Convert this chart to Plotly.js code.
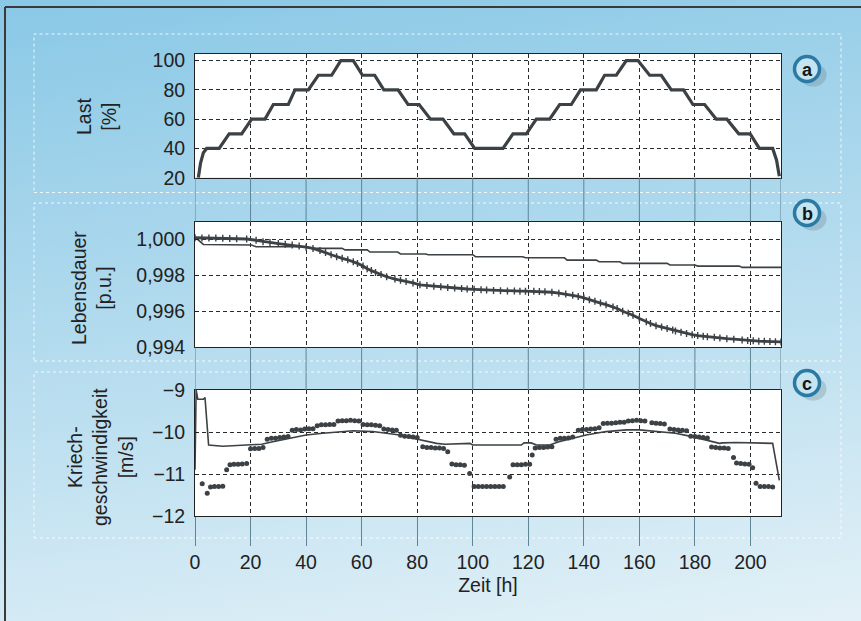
<!DOCTYPE html>
<html>
<head>
<meta charset="utf-8">
<script src="https://cdn.plot.ly/plotly-3.0.1.min.js"></script>
<style>
  html, body { margin: 0; padding: 0; }
  body { width: 861px; height: 621px; overflow: hidden;
    background: linear-gradient(172deg, #89c8e6 0%, #a4d4eb 30%, #c2e2f1 65%, #e3f1f7 100%); }
  #chart { width: 861px; height: 621px; }
</style>
</head>
<body>
<div id="chart"></div>
<script>
// ---------- Data ----------
// Panel a: Last [%]
const loadTime = [1.2, 2.0, 3.0, 4.2, 8.7, 12.3, 16.8, 20.4, 25.2, 28.2, 33.6, 36.0, 40.8, 44.4, 49.2, 52.5, 57.0, 60.3, 64.7, 68.0, 73.1, 76.7, 80.7, 84.8, 89.3, 93.2, 97.1, 100.7, 110.9, 114.5, 119.3, 122.9, 127.7, 131.3, 135.5, 138.8, 144.5, 147.5, 151.7, 155.3, 159.5, 163.7, 167.9, 171.5, 175.9, 179.3, 183.5, 187.7, 191.5, 195.8, 199.9, 203.2, 208.0, 209.4, 210.4];
const loadValue = [20, 30, 37, 40, 40, 50, 50, 60, 60, 70, 70, 80, 80, 90, 90, 100, 100, 90, 90, 80, 80, 70, 70, 60, 60, 50, 50, 40, 40, 50, 50, 60, 60, 70, 70, 80, 80, 90, 90, 100, 100, 90, 90, 80, 80, 70, 70, 60, 60, 50, 50, 40, 40, 32, 21];

// Panel b: Lebensdauer [p.u.] — thin line
const lifeThinTime = [0, 3, 20.4, 22, 40, 42, 53, 54, 62, 63, 73, 74, 83, 84, 100, 101, 118, 119, 133, 134, 144.5, 145.5, 153, 154, 170, 171, 180, 181, 196, 197, 211];
const lifeThinValue = [1.0001, 0.9997, 0.99967, 0.99957, 0.99957, 0.99948, 0.99948, 0.9994, 0.9994, 0.99928, 0.99928, 0.99917, 0.99917, 0.99913, 0.99913, 0.99902, 0.99902, 0.99896, 0.99896, 0.99883, 0.99883, 0.99874, 0.99874, 0.99865, 0.99865, 0.99856, 0.99856, 0.9985, 0.9985, 0.99843, 0.99843];
// Panel b: Lebensdauer — dotted (thick) line
const lifeDotTime = [0, 2.5, 5, 7.5, 10, 12.5, 15, 18.6, 22, 24.5, 27, 30, 32.5, 35, 37.5, 40, 42.5, 45, 47, 49, 51, 53, 55, 57, 58.5, 60.5, 62, 63.5, 65, 67, 69, 72, 74, 76, 78.5, 81, 83.5, 86, 88.5, 91, 93.5, 96, 98, 100.5, 103, 105, 107.5, 110, 112.5, 115, 117, 119, 122, 124, 126, 128.5, 131, 133.5, 136, 138, 140, 142, 144, 146, 148, 150.5, 152, 154, 156, 157.7, 160, 162.5, 164, 166, 168, 170, 172, 173, 175, 177, 179, 181, 183, 184.5, 187, 189, 191.5, 194, 197, 199, 201, 203, 205, 207, 209, 211];
const lifeDotValue = [1.00007, 1.00006, 1.00005, 1.00005, 1.00004, 1.00003, 1.00002, 1.0, 0.99993, 0.99985, 0.99981, 0.99975, 0.99971, 0.99967, 0.99961, 0.99955, 0.99948, 0.99937, 0.99925, 0.99913, 0.99902, 0.99893, 0.99885, 0.99874, 0.99865, 0.9985, 0.99835, 0.99825, 0.99815, 0.99803, 0.99791, 0.99778, 0.99772, 0.99765, 0.99757, 0.99746, 0.99742, 0.99738, 0.99735, 0.99732, 0.99729, 0.99726, 0.99723, 0.99721, 0.99719, 0.99717, 0.99715, 0.99713, 0.99712, 0.99712, 0.99711, 0.99711, 0.9971, 0.99709, 0.99708, 0.99705, 0.997, 0.99695, 0.99689, 0.99682, 0.99674, 0.99663, 0.99655, 0.99645, 0.99636, 0.99624, 0.99615, 0.996, 0.99589, 0.99578, 0.9956, 0.99541, 0.99532, 0.9952, 0.99512, 0.99504, 0.99496, 0.9949, 0.99483, 0.99476, 0.9947, 0.99465, 0.99461, 0.99458, 0.99455, 0.99452, 0.99448, 0.99445, 0.9944, 0.99438, 0.99436, 0.99434, 0.99433, 0.99432, 0.99431, 0.9943];

// Panel c: Kriechgeschwindigkeit [m/s] — thin line
const creepLineTime = [0, 0.4, 1, 3.0, 3.6, 4.9, 10, 14, 20, 24, 28, 34, 40, 46, 52, 57, 64, 69, 73.7, 78.5, 83, 87, 90, 99, 100, 117.5, 118.5, 121, 123, 127.7, 131, 136, 140.8, 148, 155.3, 160, 167, 173, 179, 184, 188.8, 190, 194.8, 208, 210.4];
const creepLineValue = [-10.9, -9.0, -9.22, -9.22, -9.18, -10.31, -10.34, -10.33, -10.31, -10.29, -10.23, -10.15, -10.07, -10.03, -9.99, -9.97, -9.99, -10.03, -10.07, -10.15, -10.21, -10.27, -10.29, -10.27, -10.31, -10.31, -10.26, -10.26, -10.31, -10.31, -10.23, -10.15, -10.07, -9.99, -9.95, -9.95, -9.99, -10.03, -10.11, -10.19, -10.27, -10.26, -10.25, -10.27, -11.15];
// Panel c: dots
const creepDotTime = [2.6, 4.4, 5.6, 7.0, 8.5, 10.0, 11.4, 12.6, 14.0, 15.5, 17.0, 18.6, 20.0, 21.5, 23.0, 24.5, 26.0, 27.5, 29.0, 30.5, 32.0, 33.5, 35.0, 36.5, 38.0, 39.5, 41.0, 42.5, 44.0, 45.5, 47.0, 48.5, 50.0, 51.5, 53.0, 54.5, 56.0, 57.5, 59.0, 60.5, 62.0, 63.5, 65.0, 66.5, 68.0, 69.5, 71.0, 72.5, 74.0, 75.5, 77.0, 78.5, 80.0, 82.0, 83.5, 85.0, 86.5, 88.0, 89.5, 91.0, 92.5, 94.0, 95.5, 97.0, 98.9, 100.5, 102.0, 103.5, 105.0, 106.5, 108.0, 109.5, 111.0, 113.3, 114.5, 116.0, 117.5, 119.0, 120.5, 121.4, 122.5, 124.0, 125.5, 127.0, 128.5, 130.0, 131.5, 133.0, 134.5, 136.0, 138.0, 139.5, 141.0, 142.5, 144.0, 145.5, 147.0, 148.5, 150.0, 151.5, 153.0, 154.5, 156.0, 157.5, 159.0, 160.5, 162.0, 164.5, 166.0, 167.5, 169.0, 171.0, 172.5, 174.0, 175.5, 177.0, 178.5, 180.0, 181.5, 183.0, 184.5, 186.0, 187.5, 189.0, 190.5, 192.0, 193.9, 195.0, 196.5, 198.0, 199.5, 200.8, 202.0, 203.5, 205.0, 206.5, 208.0];
const creepDotValue = [-11.23, -11.46, -11.31, -11.3, -11.3, -11.29, -10.9, -10.78, -10.77, -10.77, -10.76, -10.75, -10.4, -10.39, -10.39, -10.37, -10.17, -10.15, -10.15, -10.13, -10.12, -10.11, -9.96, -9.94, -9.95, -9.93, -9.92, -9.92, -9.85, -9.83, -9.83, -9.82, -9.82, -9.74, -9.73, -9.73, -9.72, -9.73, -9.74, -9.82, -9.83, -9.83, -9.84, -9.85, -9.93, -9.94, -9.95, -9.96, -10.08, -10.1, -10.11, -10.12, -10.13, -10.35, -10.37, -10.37, -10.38, -10.38, -10.39, -10.47, -10.76, -10.78, -10.78, -10.79, -10.99, -11.3, -11.3, -11.3, -11.3, -11.3, -11.3, -11.3, -11.3, -11.07, -10.78, -10.78, -10.78, -10.77, -10.77, -10.55, -10.38, -10.37, -10.37, -10.36, -10.35, -10.17, -10.15, -10.15, -10.14, -10.12, -9.96, -9.94, -9.94, -9.93, -9.92, -9.9, -9.8, -9.79, -9.79, -9.78, -9.77, -9.77, -9.74, -9.73, -9.72, -9.73, -9.74, -9.78, -9.79, -9.8, -9.81, -9.93, -9.94, -9.95, -9.96, -9.97, -10.1, -10.11, -10.12, -10.13, -10.14, -10.36, -10.37, -10.38, -10.38, -10.39, -10.61, -10.74, -10.75, -10.76, -10.77, -10.85, -11.22, -11.3, -11.3, -11.3, -11.31];

const xTicks = [0, 20, 40, 60, 80, 100, 120, 140, 160, 180, 200];

// ---------- Geometry helpers (pixel -> paper) ----------
const ML = 195, MR = 80, MT = 54, MB = 105;
const W = 861, H = 621, PW = W - ML - MR, PH = H - MT - MB;
const px = v => (v - ML) / PW;
const py = v => (H - MB - v) / PH;

const ink = '#3b4145';
const domA = [py(177.7), py(54)];
const domB = [py(347.3), py(221.7)];
const domC = [py(516), py(390)];

const traces = [
  { x: loadTime, y: loadValue, xaxis: 'x', yaxis: 'y', mode: 'lines',
    line: { color: ink, width: 3.2 } },
  { x: lifeThinTime, y: lifeThinValue, xaxis: 'x2', yaxis: 'y2', mode: 'lines',
    line: { color: ink, width: 1.6 } },
  { x: lifeDotTime, y: lifeDotValue, xaxis: 'x2', yaxis: 'y2', mode: 'lines+markers',
    line: { color: ink, width: 2.8 },
    marker: { symbol: 'line-ns-open', size: 5, color: ink, line: { width: 1.4, color: ink } } },
  { x: creepLineTime, y: creepLineValue, xaxis: 'x3', yaxis: 'y3', mode: 'lines',
    line: { color: ink, width: 1.6 } },
  { x: creepDotTime, y: creepDotValue, xaxis: 'x3', yaxis: 'y3', mode: 'markers',
    marker: { symbol: 'circle', size: 5, color: ink } }
];

const tickFont = { family: 'Liberation Sans, Arial, sans-serif', size: 19.5, color: '#222' };
const gridCommon = { showgrid: true, gridcolor: '#2a2a2a', gridwidth: 1, griddash: '4px,3px',
  showline: true, linecolor: '#222', linewidth: 1, mirror: true, zeroline: false };

const xBase = Object.assign({}, gridCommon, { range: [0, 211], tickvals: xTicks, fixedrange: true });

const layout = {
  width: W, height: H,
  margin: { l: ML, r: MR, t: MT, b: MB },
  paper_bgcolor: 'rgba(0,0,0,0)',
  plot_bgcolor: '#ffffff',
  showlegend: false,
  separators: ',.',
  font: tickFont,
  xaxis: Object.assign({}, xBase, { anchor: 'y', showticklabels: false, ticks: '' }),
  xaxis2: Object.assign({}, xBase, { anchor: 'y2', showticklabels: false, ticks: '' }),
  xaxis3: Object.assign({}, xBase, { anchor: 'y3', showticklabels: true, ticks: 'outside',
    ticklen: 29, tickcolor: '#5f8596', tickwidth: 1, tickfont: tickFont,
    title: { text: 'Zeit [h]', font: tickFont, standoff: 5 } }),
  yaxis: Object.assign({}, gridCommon, { domain: domA, range: [20, 104.5], tickvals: [20, 40, 60, 80, 100],
    ticks: 'inside', ticklen: 4, tickcolor: '#222', tickfont: tickFont, ticklabelstandoff: 5 }),
  yaxis2: Object.assign({}, gridCommon, { domain: domB, range: [0.994, 1.00096],
    tickvals: [0.994, 0.996, 0.998, 1.0], tickformat: '.3f',
    ticks: 'inside', ticklen: 4, tickcolor: '#222', tickfont: tickFont, ticklabelstandoff: 5 }),
  yaxis3: Object.assign({}, gridCommon, { domain: domC, range: [-12, -9], tickvals: [-12, -11, -10, -9],
    ticks: 'inside', ticklen: 4, tickcolor: '#222', tickfont: tickFont, ticklabelstandoff: 5 }),
  shapes: [],
  annotations: []
};

// outer frame (left + top dark edge)
layout.shapes.push({ type: 'line', xref: 'paper', yref: 'paper', x0: px(5), x1: px(5), y0: py(7), y1: py(640),
  line: { color: '#3a3a3a', width: 2 } });
layout.shapes.push({ type: 'line', xref: 'paper', yref: 'paper', x0: px(5), x1: px(880), y0: py(7), y1: py(7),
  line: { color: '#3a3a3a', width: 2 } });

// white panel boxes
[[34, 841, 34, 192.5], [34, 841, 203, 361], [34, 841, 372, 538]].forEach(b => {
  layout.shapes.push({ type: 'rect', xref: 'paper', yref: 'paper', layer: 'below',
    x0: px(b[0]), x1: px(b[1]), y0: py(b[3]), y1: py(b[2]),
    line: { color: 'rgba(255,255,255,0.85)', width: 1, dash: 'dot' }, fillcolor: 'rgba(0,0,0,0)' });
});

// vertical lines in the gaps between panels
xTicks.concat([211]).forEach(t => {
  [[domA[0], domB[1]], [domB[0], domC[1]]].forEach(g => {
    layout.shapes.push({ type: 'line', xref: 'x3', yref: 'paper', x0: t, x1: t, y0: g[1], y1: g[0],
      line: { color: '#5f8596', width: 1 } });
  });
});

// badges a, b, c
[['a', 69], ['b', 213], ['c', 383]].forEach(([lab, cy]) => {
  const cx = 807, r = 12.5;
  layout.shapes.push({ type: 'circle', xref: 'paper', yref: 'paper',
    x0: px(cx - r + 5), x1: px(cx + r + 7), y0: py(cy + r + 5), y1: py(cy - r + 7),
    fillcolor: 'rgba(90,110,120,0.25)', line: { width: 0 } });
  layout.shapes.push({ type: 'circle', xref: 'paper', yref: 'paper',
    x0: px(cx - r), x1: px(cx + r), y0: py(cy + r), y1: py(cy - r),
    fillcolor: '#c4e4f2', line: { color: '#2b7aa4', width: 3.5 } });
  layout.annotations.push({ text: '<b>' + lab + '</b>', xref: 'paper', yref: 'paper',
    x: px(cx), y: py(cy + 1), xanchor: 'center', yanchor: 'middle', showarrow: false,
    font: { family: 'Liberation Sans, Arial, sans-serif', size: 18, color: '#151515' } });
});

// y-axis titles (rotated, multi-line)
const titleFont = { family: 'Liberation Sans, Arial, sans-serif', size: 19.5, color: '#222' };
[['Last<br>[%]', 96, 117], ['Lebensdauer<br>[p.u.]', 91, 288], ['Kriech-<br>geschwindigkeit<br>[m/s]', 100, 457]].forEach(([t, x, y]) => {
  layout.annotations.push({ text: t, xref: 'paper', yref: 'paper', x: px(x), y: py(y),
    xanchor: 'center', yanchor: 'middle', showarrow: false, textangle: -90, align: 'center',
    font: titleFont });
});

Plotly.newPlot('chart', traces, layout, { displayModeBar: false, staticPlot: true });
</script>
</body>
</html>
